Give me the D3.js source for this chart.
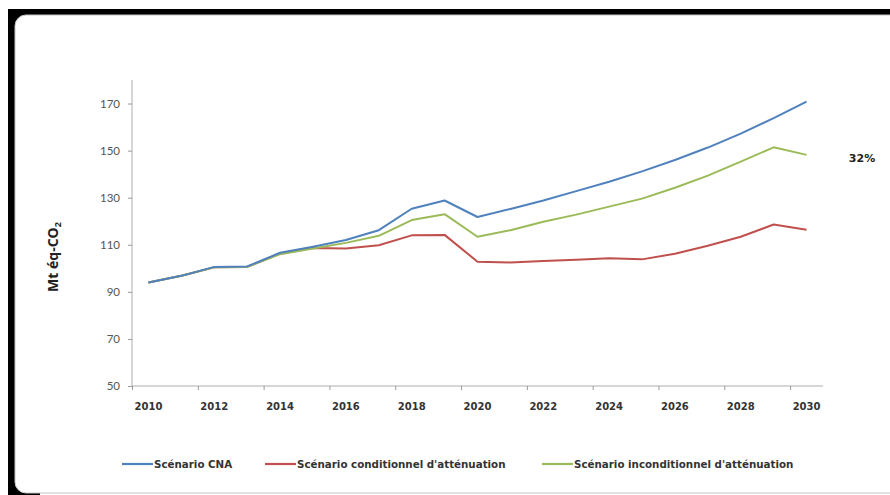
<!DOCTYPE html>
<html><head><meta charset="utf-8">
<script src="https://cdn.jsdelivr.net/npm/d3@7"></script>
<style>body{margin:0;background:#fff;}svg{display:block;}</style>
</head><body>
<script>
const years = d3.range(2010, 2031);
const cna = [94, 96.8, 100.6, 100.8, 106.6, 109.2, 112, 116.2, 125.3, 128.8, 121.8, 125.2, 128.8, 132.8, 136.8, 141.2, 146, 151.3, 157.2, 163.8, 170.8];
const conditionnel = [94, 96.8, 100.4, 100.6, 106.2, 108.6, 108.4, 109.8, 114, 114.2, 102.8, 102.5, 103.1, 103.6, 104.3, 103.8, 106.2, 109.6, 113.4, 118.6, 116.4];
const inconditionnel = [94, 96.8, 100.4, 100.6, 106, 108.4, 110.8, 113.8, 120.5, 123, 113.4, 116.2, 119.8, 122.8, 126.2, 129.6, 134.2, 139.4, 145.3, 151.4, 148.2];
const seriesNames = ["Scénario CNA", "Scénario conditionnel d'atténuation", "Scénario inconditionnel d'atténuation"];
const seriesColors = ["#4F81BD", "#C0504D", "#9BBB59"];
const yTicks = [50, 70, 90, 110, 130, 150, 170];
const xLabels = [2010, 2012, 2014, 2016, 2018, 2020, 2022, 2024, 2026, 2028, 2030];
const annotation = "32%";
const yTitle = "Mt éq-CO";

(function () {
const W = 890, H = 495;
const svg = d3.select("body").append("svg").attr("width", W).attr("height", H);
const boldFont = "'DejaVu Sans', 'Liberation Sans', sans-serif";

// frame
svg.append("rect").attr("x", 8).attr("y", 9).attr("width", 900).attr("height", 490).attr("fill", "#000");
svg.append("rect").attr("x", 40).attr("y", 490).attr("width", 860).attr("height", 10).attr("fill", "#fff");
svg.append("rect").attr("x", 15).attr("y", 15).attr("width", 900).attr("height", 478).attr("rx", 11)
  .attr("fill", "#fff").attr("stroke", "#c4c4c4").attr("stroke-width", 1);

const pl = 132, pr = 823, pt = 80, pb = 386;
const x = d3.scaleBand().domain(years).range([pl, pr]).padding(0);
const xb = d3.scaleLinear().domain([2009.5, 2030.5]).range([pl, pr]);
const y = d3.scaleLinear().domain([50, 180]).range([pb, pt]);
const cx = d => x(d) + x.bandwidth() / 2;

// y axis
const ya = svg.append("g").attr("transform", `translate(${pl},0)`)
  .call(d3.axisLeft(y).tickValues(yTicks).tickSize(4).tickPadding(8).tickSizeOuter(0));
ya.select(".domain").attr("stroke", "#c8c8c8").attr("stroke-width", 1.5).attr("d", `M0,${pt}V${pb}`);
ya.selectAll(".tick line").attr("stroke", "#999");
ya.selectAll(".tick text").attr("fill", "#555").style("font-family", "Lato, 'Liberation Sans', sans-serif").style("font-size", "11.5px");

// x axis ticks
const xt = svg.append("g").attr("transform", `translate(0,${pb})`)
  .call(d3.axisBottom(xb).tickValues(d3.range(2009.5, 2031, 2)).tickSize(4).tickFormat(""));
xt.select(".domain").attr("stroke", "#c8c8c8").attr("stroke-width", 1.5).attr("d", `M${pl},0H${pr}`);
xt.selectAll(".tick line").attr("stroke", "#999");
// x labels
svg.append("g").selectAll("text").data(xLabels).join("text")
  .attr("x", d => cx(d)).attr("y", 410).attr("text-anchor", "middle")
  .attr("fill", "#333").style("font-family", boldFont)
  .style("font-size", "10px").style("font-weight", "bold").text(d => d);

// y title
const yt = svg.append("text").attr("transform", "translate(58,257) rotate(-90)").attr("text-anchor", "middle")
  .attr("fill", "#222").style("font-family", "'Open Sans', 'Liberation Sans', sans-serif")
  .style("font-size", "14px").style("font-weight", "bold");
yt.append("tspan").text(yTitle);
yt.append("tspan").attr("dy", 3).style("font-size", "9px").text("2");

// lines
const data = [cna, conditionnel, inconditionnel];
const line = d3.line().x((d, i) => cx(years[i])).y(d => y(d));
[1, 2, 0].forEach(k => {
  svg.append("path").datum(data[k]).attr("d", line).attr("fill", "none")
    .attr("stroke", seriesColors[k]).attr("stroke-width", 2).attr("stroke-linejoin", "round");
});

// annotation
svg.append("text").attr("x", 862).attr("y", 162).attr("text-anchor", "middle").attr("fill", "#222")
  .style("font-family", boldFont).style("font-size", "11px").style("font-weight", "bold")
  .text(annotation);

// legend
const legX = [122, 265, 542];
const lg = svg.append("g").selectAll("g").data(seriesNames).join("g")
  .attr("transform", (d, i) => `translate(${legX[i]},464)`);
lg.append("line").attr("x1", 0).attr("x2", 31).attr("y1", 0).attr("y2", 0)
  .attr("stroke", (d, i) => seriesColors[i]).attr("stroke-width", 2.2);
lg.append("text").attr("x", 32).attr("y", 3.7).attr("fill", "#333")
  .style("font-family", boldFont).style("font-size", "10.3px").style("font-weight", "bold")
  .text(d => d);
})();
</script>
</body></html>
